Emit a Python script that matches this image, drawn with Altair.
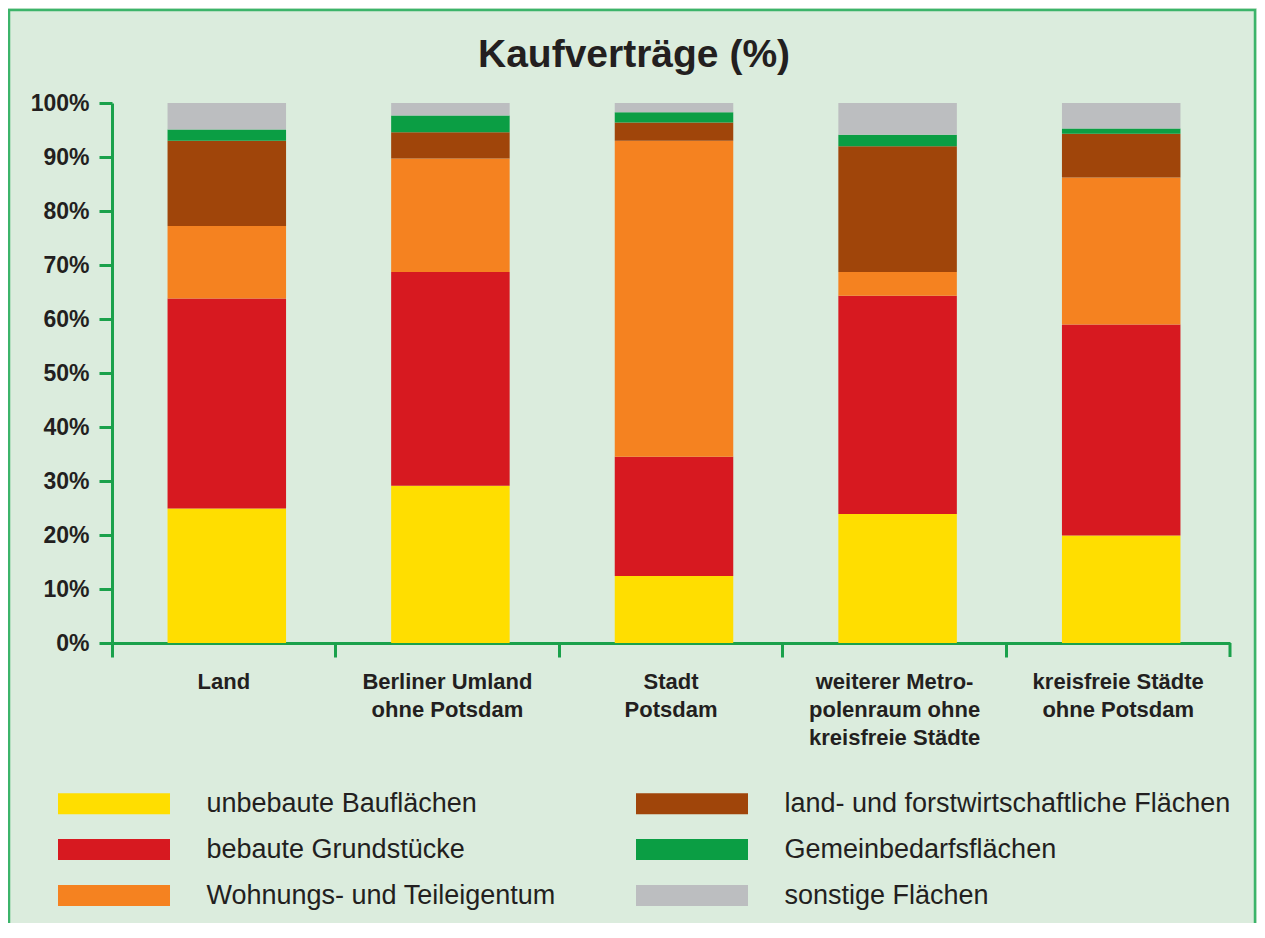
import altair as alt
import pandas as pd

# ---- data ----
regions = [
    "Land",
    "Berliner Umland\nohne Potsdam",
    "Stadt\nPotsdam",
    "weiterer Metro-\npolenraum ohne\nkreisfreie Städte",
    "kreisfreie Städte\nohne Potsdam",
]
series = [
    "unbebaute Bauflächen",
    "bebaute Grundstücke",
    "Wohnungs- und Teileigentum",
    "land- und forstwirtschaftliche Flächen",
    "Gemeinbedarfsflächen",
    "sonstige Flächen",
]
unbebaute = [24.9, 29.1, 12.4, 23.9, 19.9]
bebaute = [38.9, 39.6, 22.1, 40.4, 39.1]
wohnungs = [13.4, 21.0, 58.5, 4.4, 27.2]
landforst = [15.8, 4.9, 3.4, 23.3, 8.1]
gemeinbedarf = [2.1, 3.1, 1.9, 2.1, 1.0]
sonstige = [4.9, 2.3, 1.7, 5.9, 4.7]
series_values = [unbebaute, bebaute, wohnungs, landforst, gemeinbedarf, sonstige]
series_colors = ["#FFDE00", "#D71920", "#F58220", "#A0450A", "#0B9E44", "#BCBEC0"]
y_ticks = [0, 10, 20, 30, 40, 50, 60, 70, 80, 90, 100]

rows = []
for si, (name, vals) in enumerate(zip(series, series_values)):
    for region, v in zip(regions, vals):
        rows.append({"region": region, "category": name, "value": v, "stack_idx": si})
df = pd.DataFrame(rows)

FONT = "Liberation Sans, Arial, Helvetica, sans-serif"
TXT = "#231F20"
AX = "#1AA14B"
FRAME = "#3CB46A"
BG = "#DBECDD"
W, H = 1118, 540

bars = alt.Chart(df).mark_bar(width=alt.RelativeBandSize(0.53), xOffset=3).encode(
    x=alt.X(
        "region:N",
        sort=regions,
        scale=alt.Scale(paddingInner=0, paddingOuter=0),
        axis=alt.Axis(
            title=None,
            labelAngle=0,
            labelExpr="split(datum.label, '\\n')",
            labelFont=FONT,
            labelFontSize=22,
            labelFontWeight="bold",
            labelColor=TXT,
            labelLineHeight=28,
            labelPadding=14,
            labelLimit=400,
            bandPosition=0,
            domainColor=AX,
            domainWidth=3,
            tickColor=AX,
            tickWidth=3,
            tickSize=14,
            grid=False,
        ),
    ),
    y=alt.Y(
        "value:Q",
        stack="zero",
        scale=alt.Scale(domain=[0, 100], nice=False),
        axis=alt.Axis(
            title=None,
            values=y_ticks,
            labelExpr="datum.value + '%'",
            labelFont=FONT,
            labelFontSize=23,
            labelFontWeight="bold",
            labelColor=TXT,
            labelPadding=10,
            domainColor=AX,
            domainWidth=3,
            tickColor=AX,
            tickWidth=3,
            tickSize=13,
            grid=False,
        ),
    ),
    color=alt.Color(
        "category:N",
        scale=alt.Scale(domain=series, range=series_colors),
        legend=alt.Legend(
            title=None,
            orient="none",
            direction="vertical",
            legendX=-11.5,
            legendY=687,
            columns=2,
            columnPadding=79,
            rowPadding=18,
            padding=0,
            symbolType="M-5.333,-1H5.333V1H-5.333Z",
            symbolSize=441,
            symbolStrokeWidth=0,
            symbolOpacity=1,
            labelFont=FONT,
            labelFontSize=27,
            labelColor=TXT,
            labelOffset=79,
            labelLimit=700,
        ),
    ),
    order=alt.Order("stack_idx:Q", sort="ascending"),
)

end_tick = alt.Chart(alt.Data(values=[{"k": 1}])).mark_rule(color=AX, strokeWidth=3).encode(
    x=alt.value(W), y=alt.value(H), y2=alt.value(H + 14)
)

frame = alt.Chart(alt.Data(values=[{"k": 1}])).mark_rect(
    filled=False, stroke=FRAME, strokeWidth=2.5
).encode(
    x=alt.value(-103), x2=alt.value(W + 25), y=alt.value(-93), y2=alt.value(H + 300)
)

chart = (
    alt.layer(frame, bars, end_tick)
    .properties(
        width=W,
        height=H,
        padding={"left": 104, "top": 95, "right": 27, "bottom": 280},
        autosize=alt.AutoSizeParams(type="none"),
        background=BG,
        title=alt.TitleParams(
            "Kaufverträge (%)",
            font=FONT,
            fontSize=39,
            fontWeight="bold",
            color=TXT,
            anchor="middle",
            dx=-37,
            dy=121,
            offset=24,
            baseline="alphabetic",
        ),
    )
    .configure_view(stroke=None)
)

chart.save("out.html", embed_options={"renderer": "svg", "actions": False})
